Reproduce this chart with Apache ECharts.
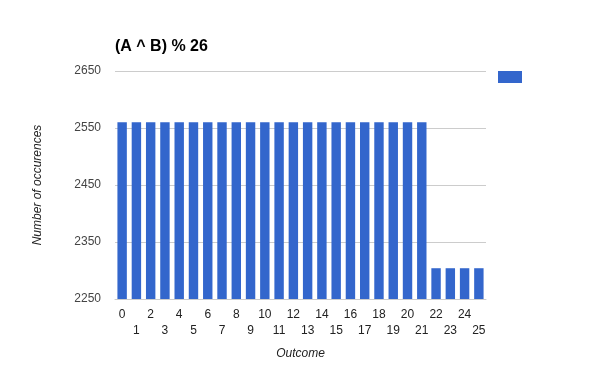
<!DOCTYPE html>
<html><head><meta charset="utf-8">
<script src="https://cdn.jsdelivr.net/npm/echarts@6/dist/echarts.min.js"></script>
<style>html,body{margin:0;padding:0;background:#fff}#c{width:600px;height:371px}</style>
</head><body><div id="c"></div>
<script>
var categories = ['0','1','2','3','4','5','6','7','8','9','10','11','12','13','14','15','16','17','18','19','20','21','22','23','24','25'];
var counts = [2560,2560,2560,2560,2560,2560,2560,2560,2560,2560,2560,2560,2560,2560,2560,2560,2560,2560,2560,2560,2560,2560,2304,2304,2304,2304];
var yTicks = [2250, 2350, 2450, 2550, 2650];

var chart = echarts.init(document.getElementById('c'), null, {renderer: 'canvas'});
chart.setOption({
  animation: false,
  title: {
    text: '(A ^ B) % 26', left: 110, top: 34,
    textStyle: {fontFamily: 'Liberation Sans, Arial', fontSize: 16, fontWeight: 'bold', color: '#000'}
  },
  legend: {
    show: true, left: 498, top: 71, padding: 0, itemWidth: 24, itemHeight: 12,
    data: [{name: ' ', icon: 'rect'}], textStyle: {fontSize: 1}, itemGap: 0
  },
  grid: {left: 115, right: 114, top: 71, bottom: 72},
  xAxis: {
    type: 'category', data: categories,
    name: 'Outcome', nameLocation: 'middle', nameGap: 49,
    nameTextStyle: {fontFamily: 'Liberation Sans, Arial', fontStyle: 'italic', fontSize: 12, color: '#222'},
    axisLine: {show: true, lineStyle: {color: '#ccc'}},
    axisTick: {show: false},
    axisLabel: {
      interval: 0, margin: 8, fontFamily: 'Liberation Sans, Arial', fontSize: 12, color: '#222', lineHeight: 16,
      formatter: function (v, i) { return i % 2 === 1 ? '\n' + v : v + '\n'; }
    }
  },
  yAxis: {
    type: 'value', min: yTicks[0], max: yTicks[yTicks.length - 1], interval: 100,
    name: 'Number of occurences', nameLocation: 'middle', nameGap: 71, nameRotate: 90,
    nameTextStyle: {fontFamily: 'Liberation Sans, Arial', fontStyle: 'italic', fontSize: 12, color: '#222'},
    axisLine: {show: false}, axisTick: {show: false},
    splitLine: {lineStyle: {color: '#ccc'}},
    axisLabel: {margin: 14, fontFamily: 'Liberation Sans, Arial', fontSize: 12, color: '#444',
      formatter: function (v) { return String(v); }}
  },
  series: [{
    name: ' ', type: 'bar', data: counts, barCategoryGap: '34%',
    itemStyle: {color: '#3366cc'}
  }]
});
</script></body></html>
